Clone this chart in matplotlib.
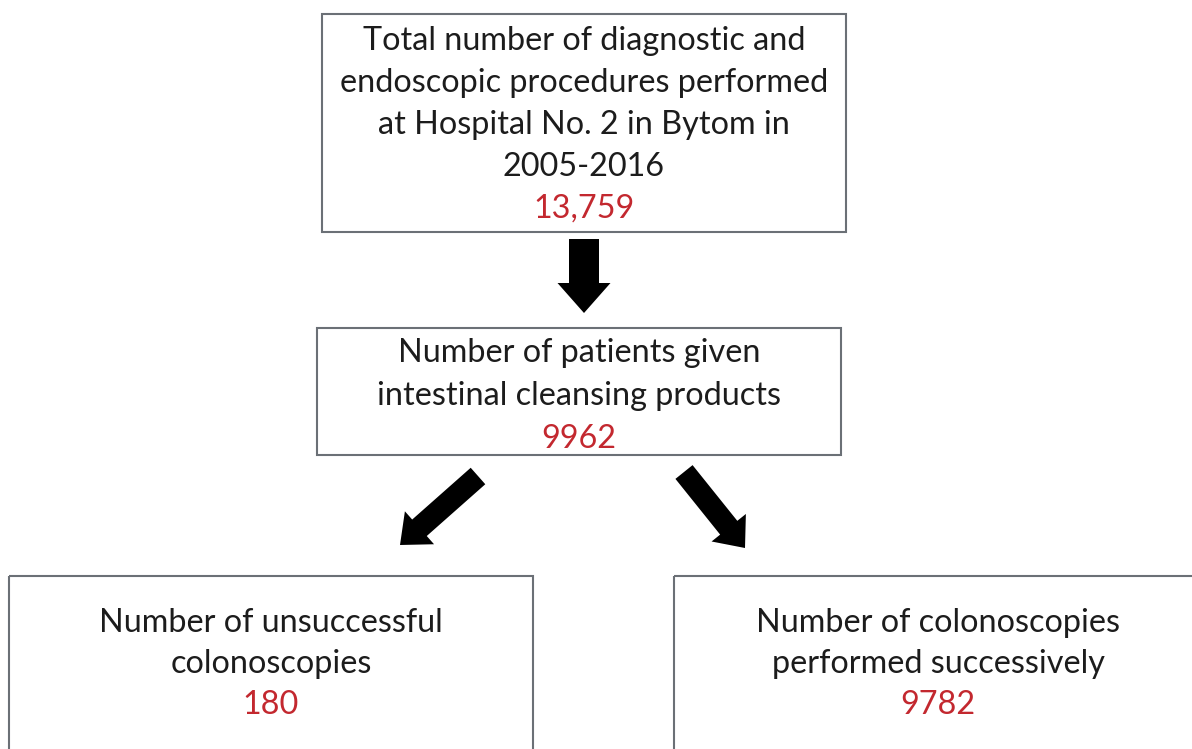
import matplotlib
matplotlib.use("Agg")
import matplotlib.pyplot as plt
from matplotlib.patches import Rectangle

# flowchart content
box_lines = [
    ["Total number of diagnostic and",
     "endoscopic procedures performed",
     "at Hospital No. 2 in Bytom in",
     "2005-2016"],
    ["Number of patients given",
     "intestinal cleansing products"],
    ["Number of unsuccessful",
     "colonoscopies"],
    ["Number of colonoscopies",
     "performed successively"],
]
box_counts = ["13,759", "9962", "180", "9782"]

# layout in pixel coords (x0, y0, x1, y1) and first baseline
box_rects = [(322, 14, 846, 232), (317, 328, 841, 455),
             (9, 576, 533, 770), (674, 576, 1202, 770)]
first_baseline = [50, 362, 632, 632]
line_pitch = [42, 43, 41, 41]
arrows = [((584, 239), (584, 313), 30, 53, 30),
          ((478, 476), (400, 545), 22, 44, 26),
          ((684, 472), (745, 548), 22, 44, 26)]

text_color = "#1c1c1c"
count_color = "#c3282f"
edge_color = "#6b7076"
font = ["Lato", "DejaVu Sans"]
fsize = 23.3

fig = plt.figure(figsize=(11.92, 7.49), dpi=100)
ax = fig.add_axes([0, 0, 1, 1])
ax.set_xlim(0, 1192)
ax.set_ylim(749, 0)
ax.axis("off")

for i, lines in enumerate(box_lines):
    x0, y0, x1, y1 = box_rects[i]
    ax.add_patch(Rectangle((x0, y0), x1 - x0, y1 - y0, fill=False,
                           edgecolor=edge_color, linewidth=1.5))
    cx = (x0 + x1) / 2
    y = first_baseline[i]
    for line in lines:
        ax.text(cx, y, line, ha="center", va="baseline", fontsize=fsize,
                color=text_color, family=font)
        y += line_pitch[i]
    ax.text(cx, y, box_counts[i], ha="center", va="baseline", fontsize=fsize,
            color=count_color, family=font)

for (xa, ya), (xb, yb), w, hw, hl in arrows:
    ax.arrow(xa, ya, xb - xa, yb - ya, width=w, head_width=hw, head_length=hl,
             length_includes_head=True, color="black", linewidth=0)

fig.savefig("out.png", dpi=100, facecolor="white")
